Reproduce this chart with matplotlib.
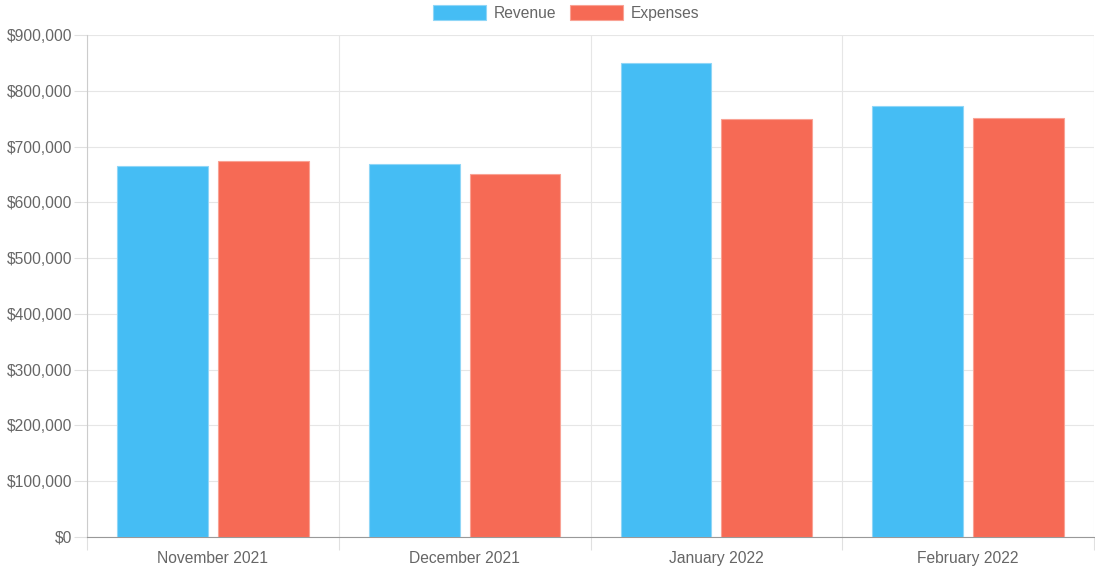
import numpy as np
import matplotlib
matplotlib.use("Agg")
import matplotlib.pyplot as plt
from matplotlib.ticker import FuncFormatter, FixedLocator

months = ["November 2021", "December 2021", "January 2022", "February 2022"]
revenue = [665000, 669000, 850000, 773000]
expenses = [675000, 650000, 750000, 752000]

plt.rcParams['font.family'] = ['Liberation Sans', 'DejaVu Sans']
txt = '#666666'
fs = 11.25

fig = plt.figure(figsize=(10.95, 5.69), dpi=100)
ax = fig.add_axes([87 / 1095, 1 - 537 / 569, 1007 / 1095, 502 / 569])

x = np.arange(len(months))
bw = 0.36
ax.bar(x - 0.2, revenue, bw, color='#45bdf4', edgecolor='#8fd6f7', linewidth=0.8,
       label='Revenue', zorder=3)
ax.bar(x + 0.2, expenses, bw, color='#f66a55', edgecolor='#f9a294', linewidth=0.8,
       label='Expenses', zorder=3)

ax.set_xlim(-0.5, len(months) - 0.5)
ax.set_ylim(0, 900000)
ax.set_yticks(np.arange(0, 900001, 100000))
ax.yaxis.set_major_formatter(FuncFormatter(lambda v, p: '${:,.0f}'.format(v)))
ax.set_xticks(x)
ax.set_xticklabels(months)
ax.xaxis.set_minor_locator(FixedLocator(np.arange(-0.5, len(months), 1.0)))

ax.tick_params(axis='x', which='major', length=0, pad=10, labelsize=fs, labelcolor=txt)
ax.tick_params(axis='x', which='minor', length=9.5, width=0.8, color='#e0e0e0')
ax.tick_params(axis='y', length=9.5, width=0.8, color='#e0e0e0', pad=1,
               labelsize=fs, labelcolor=txt)

ax.grid(True, axis='y', color='#e6e6e6', linewidth=0.8, zorder=0)
ax.grid(True, axis='x', which='minor', color='#e6e6e6', linewidth=0.8, zorder=0)
ax.set_axisbelow(True)

for s in ['top', 'right']:
    ax.spines[s].set_visible(False)
ax.spines['left'].set_color('#cccccc')
ax.spines['left'].set_linewidth(0.8)
ax.spines['bottom'].set_color('#999999')
ax.spines['bottom'].set_linewidth(0.8)

leg = fig.legend(loc='center', bbox_to_anchor=(566 / 1095, 1 - 13 / 569), ncol=2,
                 frameon=False, fontsize=fs, handlelength=3.4, handleheight=1.05,
                 handletextpad=0.5, columnspacing=0.85, borderpad=0)
for t in leg.get_texts():
    t.set_color(txt)

fig.savefig('out.png', dpi=100)
